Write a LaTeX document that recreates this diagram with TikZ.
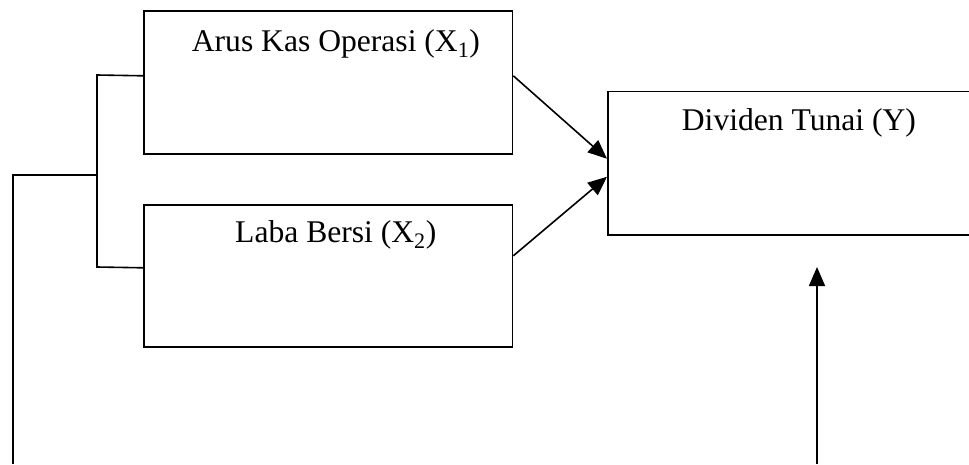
\documentclass[tikz,border=0pt]{standalone}
\usepackage{fontspec}
\setmainfont{Liberation Serif}
\usetikzlibrary{arrows.meta}
\begin{document}
\begin{tikzpicture}[x=1pt,y=-1pt,
  box/.style={draw,line width=1.6pt,rectangle,inner sep=0pt,anchor=north west},
  lbl/.style={anchor=base west,inner sep=0pt,font=\fontsize{31.6}{38}\selectfont},
  ln/.style={line width=1.6pt},
  arr/.style={line width=1.6pt,-{Triangle[length=19pt,width=16pt]}}]
\useasboundingbox (0,0) rectangle (969,464);
\clip (0,0) rectangle (969,464);
\node[box,minimum width=368.7pt,minimum height=143pt] (X1) at (143,10) {};
\node[box,minimum width=368.7pt,minimum height=142pt] (X2) at (143,204) {};
\node[box,minimum width=384pt,minimum height=143.3pt] (Y) at (607,90.7) {};
\node[lbl] (tX1) at (191.7,51) {Arus Kas Operasi (X\textsubscript{1})};
\node[lbl] (tX2) at (235,242) {Laba Bersi (X\textsubscript{2})};
\node[lbl] (tY) at (681.7,130) {Dividen Tunai (Y)};
\coordinate (bl) at (97,75);
\coordinate (br) at (97,267);
\coordinate (bm) at (97,175);
\coordinate (lt) at (13,175);
\coordinate (lb) at (13,464);
\coordinate (ab) at (817,464);
\coordinate (at) at (817,267);
\draw[arr] ([yshift=6.5pt]X1.east) -- ([yshift=4.4pt]Y.west);
\draw[arr] ([yshift=20pt]X2.east) -- ([yshift=-13.6pt]Y.west);
\draw[ln] ([yshift=6.5pt]X1.west) -- (bl) -- (br) -- ([yshift=8pt]X2.west);
\draw[ln] (bm) -- (lt) -- (lb);
\draw[arr] (ab) -- (at);
\end{tikzpicture}
\end{document}
